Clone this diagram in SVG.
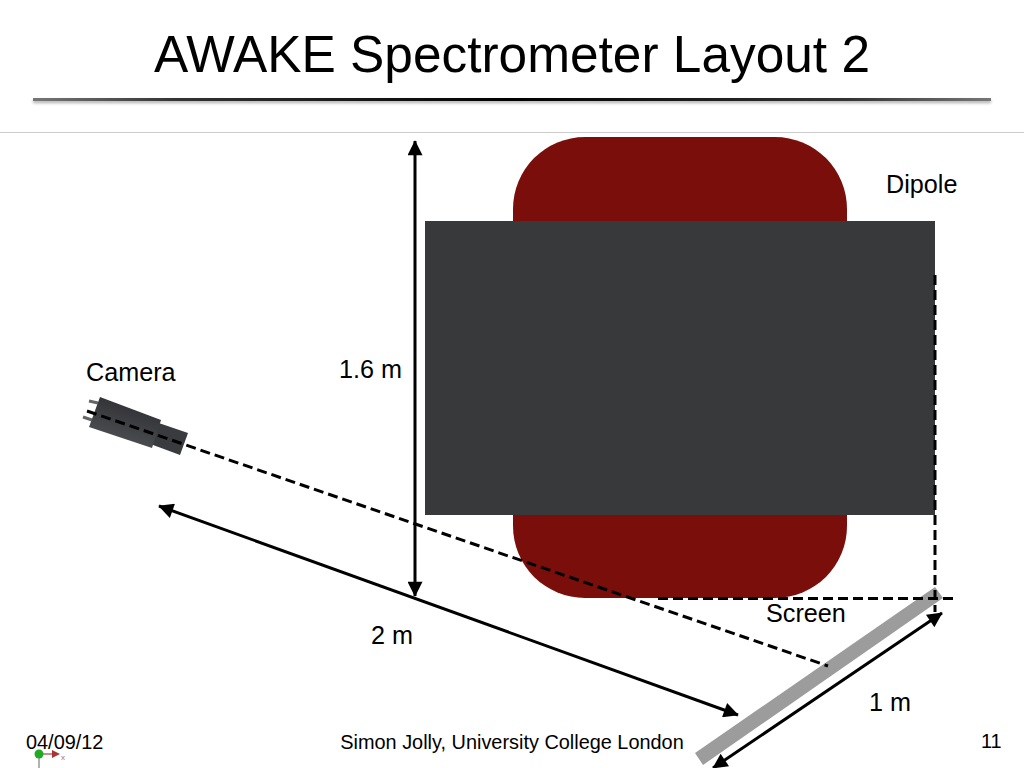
<svg xmlns="http://www.w3.org/2000/svg" width="1024" height="768" viewBox="0 0 1024 768">
<style>
text{font-family:"Liberation Sans",Arial,sans-serif;fill:#000}
.l{font-size:25.200px}
.f{font-size:19.900px}
.d{fill:none;stroke:#000;stroke-width:3;stroke-dasharray:10 5}
.a{fill:none;stroke:#000;stroke-width:3;marker-start:url(#h);marker-end:url(#h)}
</style>
<defs>
<marker id="h" viewBox="0 0 10 10" refX="9.500" refY="5" markerWidth="5.500" markerHeight="5" orient="auto-start-reverse" markerUnits="strokeWidth"><path d="M0 0L10 5L0 10Z" fill="#000"/></marker>
<linearGradient id="rule" x1="0" x2="1" y1="0" y2="0"><stop offset="0" stop-color="#777"/><stop offset=".15" stop-color="#333"/><stop offset=".5" stop-color="#000"/><stop offset=".85" stop-color="#333"/><stop offset="1" stop-color="#777"/></linearGradient>
<linearGradient id="cam" gradientUnits="userSpaceOnUse" x1="135" y1="408" x2="125" y2="440"><stop offset="0" stop-color="#333437"/><stop offset="1" stop-color="#4a4b4e"/></linearGradient>
<filter id="b" x="-2%" y="-400%" width="104%" height="900%"><feGaussianBlur stdDeviation="1.500"/></filter>
</defs>
<rect width="1024" height="768" fill="#fff"/>
<g id="title">
<text x="512" y="72" font-size="52" text-anchor="middle" textLength="716" lengthAdjust="spacingAndGlyphs">AWAKE Spectrometer Layout 2</text>
<rect x="33" y="100" width="958" height="3" fill="#aaa" filter="url(#b)"/>
<rect x="33" y="98" width="958" height="3" fill="url(#rule)"/>
<rect x="0" y="132" width="1024" height="1" fill="#ccc"/>
</g>
<g id="dipole">
<rect x="513" y="137" width="334" height="461" rx="72" ry="72" fill="#7a0e0b"/>
<rect x="425" y="221" width="510" height="294" fill="#38393b"/>
<text class="l" x="886" y="193">Dipole</text>
</g>
<g id="camera">
<path d="M89 401L98 403M83 417L92 420" stroke="#666" stroke-width="3" fill="none"/>
<path d="M150 420L188 433L180 455L145 442Z" fill="#3a3b3e"/>
<path d="M100 397L161 420L152 448L89 427Z" fill="url(#cam)"/>
<text class="l" x="86" y="381">Camera</text>
</g>
<g id="screen">
<path d="M695 753L935 587L943 598L703 765Z" fill="#9c9c9c"/>
<text class="l" x="766" y="622">Screen</text>
</g>
<g id="connectors">
<path class="d" d="M87 411L828 666"/>
<path class="d" d="M935 275V612"/>
<path class="d" d="M658 598.500H953"/>
<path class="a" d="M415 141V596"/>
<path class="a" d="M159 506L738 715"/>
<path class="a" d="M942 613L713 768"/>
</g>
<g id="labels">
<text class="l" x="339" y="378">1.6 m</text>
<text class="l" x="371" y="644">2 m</text>
<text class="l" x="869" y="711">1 m</text>
</g>
<g id="footer">
<path d="M39 755V768" stroke="#999" stroke-width="1.500"/>
<path d="M39 754H54" stroke="#b66" stroke-width="1.500"/>
<path d="M52 750L60 754L52 758Z" fill="#a33"/>
<text x="61" y="760" font-size="8" style="fill:#b66">x</text>
<circle cx="39" cy="754" r="4.500" fill="#2a2"/>
<text class="f" x="26" y="749">04/09/12</text>
<text class="f" x="512" y="749" text-anchor="middle">Simon Jolly, University College London</text>
<text class="f" x="981" y="748">11</text>
</g>
</svg>
